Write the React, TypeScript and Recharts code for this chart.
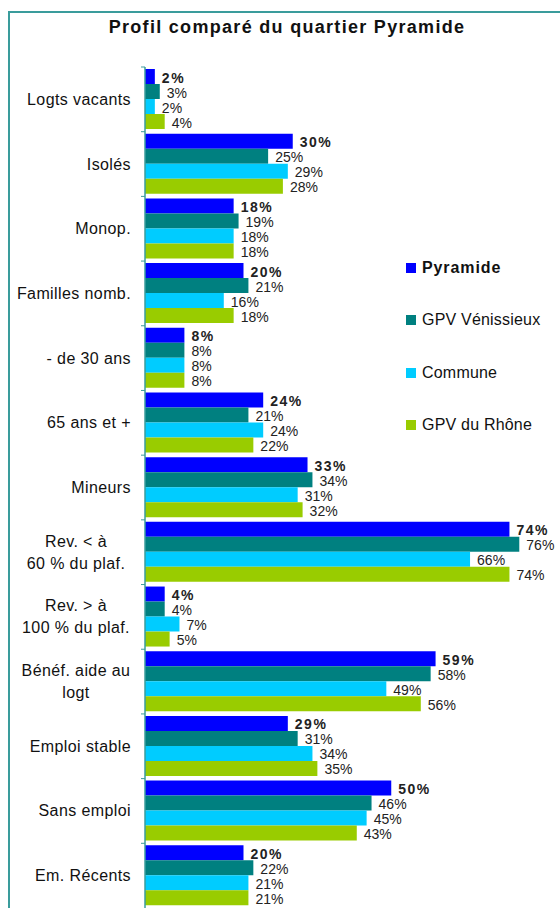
import React from 'react';
import { BarChart, Bar, XAxis, YAxis, Legend, LabelList } from 'recharts';

const categories = [
  'Logts vacants',
  'Isolés',
  'Monop.',
  'Familles nomb.',
  '- de 30 ans',
  '65 ans et +',
  'Mineurs',
  'Rev. < à\n60 % du plaf.',
  'Rev. > à\n100 % du plaf.',
  'Bénéf. aide au\nlogt',
  'Emploi stable',
  'Sans emploi',
  'Em. Récents',
];
const pyramide = [2, 30, 18, 20, 8, 24, 33, 74, 4, 59, 29, 50, 20];
const gpvVenissieux = [3, 25, 19, 21, 8, 21, 34, 76, 4, 58, 31, 46, 22];
const commune = [2, 29, 18, 16, 8, 24, 31, 66, 7, 49, 34, 45, 21];
const gpvRhone = [4, 28, 18, 18, 8, 22, 32, 74, 5, 56, 35, 43, 21];

const seriesNames = ['Pyramide', 'GPV Vénissieux', 'Commune', 'GPV du Rhône'];
const seriesColors = ['#0000ff', '#008080', '#00ccff', '#99cc00'];

const data = categories.map((cat, i) => ({
  cat,
  pyramide: pyramide[i],
  gpvVenissieux: gpvVenissieux[i],
  commune: commune[i],
  gpvRhone: gpvRhone[i],
}));
const keys = ['pyramide', 'gpvVenissieux', 'commune', 'gpvRhone'];

const FONT = 'Arial, "Liberation Sans", sans-serif';
const FRAME = '#3a9c9c';
const AXIS_X = 145;
const PLOT_TOP = 67;
const PLOT_H = 841;
const BAND = PLOT_H / categories.length;

// single-line labels end at 131, wrapped ones are centred around 75
const CategoryTick = (props: any) => {
  const { y, payload } = props;
  const lines = String(payload.value).split('\n');
  const multi = lines.length > 1;
  const lh = 22;
  return (
    <g>
      <line x1={AXIS_X - 4} x2={AXIS_X} y1={y - BAND / 2} y2={y - BAND / 2} stroke={FRAME} strokeWidth={1} />
      {lines.map((ln, i) => (
        <text
          key={i}
          x={multi ? 76 : 131}
          y={y + (i - (lines.length - 1) / 2) * lh}
          textAnchor={multi ? 'middle' : 'end'}
          dominantBaseline="central"
          fontSize={16}
          letterSpacing={0.4}
          fontFamily={FONT}
          fill="#111"
        >
          {ln}
        </text>
      ))}
    </g>
  );
};

const makeLabel = (bold: boolean) => (props: any) => {
  const { x, y, width, height, value } = props;
  return (
    <text
      x={x + width + 7}
      y={y + height / 2 + 1}
      dominantBaseline="central"
      fontSize={14}
      fontFamily={FONT}
      fontWeight={bold ? 'bold' : 'normal'}
      letterSpacing={bold ? 1.5 : 0}
      fill="#222"
    >
      {value}%
    </text>
  );
};

const LegendBox = () => (
  <div style={{ fontFamily: FONT, fontSize: 16, color: '#111' }}>
    {seriesNames.map((name, i) => (
      <div key={name} style={{ display: 'flex', alignItems: 'center', height: 52.3 }}>
        <span style={{ width: 10, height: 10, background: seriesColors[i], marginRight: 6, display: 'inline-block' }} />
        <span style={{ fontWeight: i === 0 ? 'bold' : 'normal', letterSpacing: i === 0 ? 0.9 : 0.2 }}>{name}</span>
      </div>
    ))}
  </div>
);

export default function App() {
  return (
    <div style={{ position: 'absolute', left: 0, top: 0, width: 560, height: 908, overflow: 'hidden', background: '#fff' }}>
      <div
        style={{
          position: 'absolute',
          left: 8,
          top: 11,
          width: 700,
          height: 1000,
          borderLeft: '2px solid ' + FRAME,
          borderTop: '2px solid ' + FRAME,
        }}
      />
      <div
        style={{
          position: 'absolute',
          left: 0,
          width: 574,
          top: 17,
          textAlign: 'center',
          fontFamily: FONT,
          fontWeight: 'bold',
          fontSize: 18,
          letterSpacing: 1.3,
          color: '#111',
        }}
      >
        Profil comparé du quartier Pyramide
      </div>
      <div style={{ position: 'absolute', left: 0, top: 0 }}>
        <BarChart
          width={560}
          height={PLOT_TOP + PLOT_H}
          data={data}
          layout="vertical"
          margin={{ top: PLOT_TOP, right: 21, bottom: 0, left: 8 }}
          barGap={0}
          barSize={15}
        >
          <XAxis type="number" domain={[0, 80]} hide />
          <YAxis
            type="category"
            dataKey="cat"
            width={AXIS_X - 8}
            axisLine={{ stroke: FRAME, strokeWidth: 1.5 }}
            tickLine={false}
            tick={CategoryTick}
            interval={0}
          />
          <Legend
            layout="vertical"
            align="center"
            verticalAlign="middle"
            content={LegendBox}
            wrapperStyle={{ left: 406, top: 242, width: 154 }}
          />
          {keys.map((k, i) => (
            <Bar key={k} dataKey={k} name={seriesNames[i]} fill={seriesColors[i]} isAnimationActive={false}>
              <LabelList dataKey={k} content={makeLabel(i === 0)} />
            </Bar>
          ))}
        </BarChart>
      </div>
    </div>
  );
}
